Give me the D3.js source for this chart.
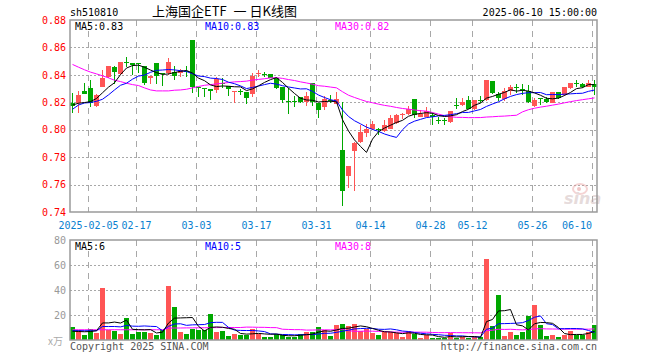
<!DOCTYPE html>
<html><head><meta charset="utf-8">
<script src="https://cdn.jsdelivr.net/npm/d3@7"></script>
<style>body{margin:0;background:#fff} svg{display:block}</style>
</head><body>
<svg id="c" width="660" height="360"></svg>
<script>
const dates = [
"2025-01-23","2025-01-24","2025-01-27",
"2025-02-05","2025-02-06","2025-02-07","2025-02-10","2025-02-11","2025-02-12","2025-02-13","2025-02-14",
"2025-02-17","2025-02-18","2025-02-19","2025-02-20","2025-02-21","2025-02-24","2025-02-25","2025-02-26","2025-02-27","2025-02-28",
"2025-03-03","2025-03-04","2025-03-05","2025-03-06","2025-03-07","2025-03-10","2025-03-11","2025-03-12","2025-03-13","2025-03-14",
"2025-03-17","2025-03-18","2025-03-19","2025-03-20","2025-03-21","2025-03-24","2025-03-25","2025-03-26","2025-03-27","2025-03-28","2025-03-31",
"2025-04-01","2025-04-02","2025-04-03","2025-04-07","2025-04-08","2025-04-09","2025-04-10","2025-04-11",
"2025-04-14","2025-04-15","2025-04-16","2025-04-17","2025-04-18","2025-04-21","2025-04-22","2025-04-23","2025-04-24","2025-04-25",
"2025-04-28","2025-04-29","2025-04-30",
"2025-05-06","2025-05-07","2025-05-08","2025-05-09","2025-05-12","2025-05-13","2025-05-14","2025-05-15","2025-05-16",
"2025-05-19","2025-05-20","2025-05-21","2025-05-22","2025-05-23","2025-05-26","2025-05-27","2025-05-28","2025-05-29","2025-05-30",
"2025-06-03","2025-06-04","2025-06-05","2025-06-06","2025-06-09","2025-06-10"];

const open = [.8193,.8193,.8283,.8305,.8173,.8315,.8386,.8456,.8407,.8493,
.8488,.8488,.8466,.8380,.8488,.8417,.8417,.8422,.8417,.8430,
.8656,.8312,.8303,.8298,.8290,.8339,.8320,.8278,.8283,.8278,
.8259,.8410,.8408,.8407,.8376,.8310,.8206,.8213,.8241,.8205,
.8339,.8198,.8168,.8218,.8188,.7851,.7663,.7846,.7912,.7978,
.8005,.8003,.7993,.8005,.8046,.8105,.8115,.8222,.8095,.8095,
.8107,.8072,.8072,.8059,.8179,.8180,.8217,.8149,.8218,.8217,
.8356,.8259,.8222,.8283,.8311,.8296,.8283,.8173,.8230,.8222,
.8198,.8276,.8254,.8302,.8340,.8334,.8315,.8334];
const high = [.8266,.8283,.8344,.8359,.8261,.8437,.8466,.8466,.8495,.8529,
.8488,.8490,.8466,.8395,.8488,.8417,.8522,.8466,.8444,.8466,
.8656,.8312,.8303,.8298,.8383,.8376,.8320,.8283,.8295,.8278,
.8412,.8437,.8422,.8407,.8376,.8310,.8302,.8246,.8241,.8278,
.8339,.8198,.8246,.8251,.8278,.8205,.7734,.7912,.8034,.8039,
.8066,.8015,.8071,.8107,.8115,.8124,.8176,.8222,.8144,.8163,
.8124,.8090,.8083,.8137,.8229,.8229,.8246,.8217,.8246,.8363,
.8356,.8278,.8307,.8327,.8332,.8334,.8327,.8229,.8230,.8241,
.8276,.8276,.8315,.8339,.8359,.8339,.8359,.8359];
const low = [.8120,.8120,.8259,.8163,.8163,.8310,.8376,.8332,.8398,.8456,
.8400,.8410,.8329,.8332,.8334,.8322,.8400,.8359,.8388,.8388,
.8271,.8241,.8241,.8217,.8271,.8302,.8249,.8198,.8254,.8188,
.8241,.8383,.8388,.8380,.8300,.8198,.8115,.8168,.8198,.8173,
.8173,.8083,.8144,.8193,.8188,.7444,.7578,.7554,.7905,.7949,
.8000,.7961,.7985,.8005,.8039,.8076,.8107,.8083,.8090,.8090,
.8034,.8041,.8034,.8051,.8149,.8173,.8149,.8144,.8198,.8212,
.8259,.8210,.8212,.8254,.8271,.8254,.8198,.8168,.8180,.8193,
.8193,.8222,.8246,.8295,.8315,.8307,.8310,.8254];
const close = [.8173,.8254,.8263,.8198,.8251,.8380,.8461,.8422,.8495,.8490,
.8471,.8476,.8344,.8395,.8395,.8405,.8495,.8395,.8437,.8429,
.8310,.8310,.8302,.8283,.8368,.8332,.8300,.8283,.8278,.8234,
.8393,.8412,.8407,.8380,.8307,.8217,.8205,.8212,.8205,.8246,
.8205,.8144,.8227,.8217,.8222,.7554,.7734,.7900,.7980,.8005,
.8039,.8002,.8034,.8083,.8107,.8115,.8151,.8107,.8112,.8137,
.8090,.8071,.8071,.8137,.8178,.8205,.8154,.8217,.8217,.8359,
.8266,.8234,.8283,.8315,.8310,.8295,.8205,.8217,.8229,.8200,
.8276,.8229,.8315,.8339,.8339,.8310,.8344,.8310];
// volume, 万手
const volume = [10.4,8,4,8.8,5.9,41.6,8,7.5,4.8,17.6,
4.8,6.7,6.7,5.9,4,8,43.2,26.4,6.7,4.8,
8.8,8,8,20.8,6.7,7.5,3.2,4.8,4,4,
8.8,4.8,2.7,2.7,4.8,4,2.7,2.7,4.8,6.7,
6.7,10.4,8,3.2,12,12.8,11.2,12.8,7.5,8.8,
5.9,4,6.7,6.7,5.3,2.7,7.5,4.8,1.9,3.7,
1.9,1.3,1.9,5.3,1.9,2.7,1.9,2.1,2.1,64.8,
11.2,36,3.2,6.7,4,6.7,19.5,28,12,3.2,
4,2.7,4,7.5,4,4,6.7,12];

// moving averages at the first days (their windows start before the chart)
const ma5Head = [.8180,.8193,.8198,.8205];
const ma10Head = [.8149,.8180,.8195,.8198,.8207,.8222,.8254,.8290,.8324];
const ma30Head = [.8476,.8456,.8437,.8420,.8407,.8393,.8378,.8361,.8351,.8339,
.8329,.8322,.8305,.8290,.8283,.8283,.8283,.8288,.8290,.8295,
.8305,.8315,.8324,.8329,.8334,.8339,.8344,.8349,.8351];
const volMa5Head = [7.0,6.8,6.6,6.8];
const volMa10Head = [7.5,7.5,7.4,7.4,7.4,10.8,10.8,10.8,10.5];
const volMa30Head = [8.2,8.2,8.2,8.2,8.2,8.2,8.2,8.2,8.2,8.2,8.2,8.2,8.2,8.2,8.2,8.2,
9.5,9.6,9.6,9.7,9.7,9.8,9.8,9.9,9.9,10,10,10,10];

const priceTicks = [0.88,0.86,0.84,0.82,0.80,0.78,0.76,0.74];
const volTicks = [80,60,40,20];
const tickDates = ["2025-02-05","2025-02-17","2025-03-03","2025-03-17","2025-03-31","2025-04-14","2025-04-28","2025-05-12","2025-05-26","2025-06-10"];
const tickLabels = ["2025-02-05","02-17","03-03","03-17","03-31","04-14","04-28","05-12","05-26","06-10"];

const mono = "'DejaVu Sans Mono', 'Liberation Mono', monospace";
const cjk = "'Noto Sans CJK SC', sans-serif";
const RED = "#ff5555", GREEN = "#00a800", GRID = "#a8a8a8", FRAME = "#9a9a9a";

function movingAvg(arr, n, head) {
  return arr.map((v, i) => {
    if (i < head.length) return head[i];
    return d3.mean(arr.slice(i - n + 1, i + 1));
  });
}

const svg = d3.select("#c");
const L = 70, R = 597, T = 20, B = 212, VT = 240, VB = 340;
const x = d3.scaleBand().domain(dates).range([70, 598]).padding(0);
const y = d3.scaleLinear().domain([0.74, 0.88]).range([212, 20]);
const yv = d3.scaleLinear().domain([0, 80]).range([340, 240]);

svg.append("rect").attr("width", 660).attr("height", 360).attr("fill", "#fff");

// grid
const g = svg.append("g");
g.selectAll(".hg").data(priceTicks.slice(1, -1)).join("line")
  .attr("x1", L).attr("x2", R).attr("y1", d => Math.round(y(d)) + 0.5).attr("y2", d => Math.round(y(d)) + 0.5)
  .attr("stroke", GRID).attr("stroke-dasharray", "2,2");
g.selectAll(".hv").data(volTicks.slice(1)).join("line")
  .attr("x1", L).attr("x2", R).attr("y1", d => Math.round(yv(d)) + 0.5).attr("y2", d => Math.round(yv(d)) + 0.5)
  .attr("stroke", GRID).attr("stroke-dasharray", "2,2");
tickDates.forEach(d => {
  const xx = Math.round(x(d)) + 0.5;
  g.append("line").attr("x1", xx).attr("x2", xx).attr("y1", T).attr("y2", B)
    .attr("stroke", GRID).attr("stroke-dasharray", "6,5");
  g.append("line").attr("x1", xx).attr("x2", xx).attr("y1", VT).attr("y2", VB)
    .attr("stroke", GRID).attr("stroke-dasharray", "6,5");
});

// candles
const idx = d3.range(dates.length);
const col = i => close[i] > open[i] ? RED : GREEN;
const cg = svg.append("g").attr("shape-rendering", "crispEdges");
cg.selectAll(".wick").data(idx).join("rect")
  .attr("x", i => x(dates[i]) + 2).attr("width", 1)
  .attr("y", i => y(high[i])).attr("height", i => Math.max(1, y(low[i]) - y(high[i])))
  .attr("fill", col);
cg.selectAll(".body").data(idx).join("rect")
  .attr("x", i => x(dates[i])).attr("width", 5)
  .attr("y", i => y(Math.max(open[i], close[i])))
  .attr("height", i => Math.max(1, Math.abs(y(open[i]) - y(close[i]))))
  .attr("fill", col);

// volume bars
cg.selectAll(".vol").data(idx).join("rect")
  .attr("x", i => x(dates[i])).attr("width", 5)
  .attr("y", i => yv(volume[i])).attr("height", i => yv(0) - yv(volume[i]))
  .attr("fill", col);

// MA lines
const ma5 = movingAvg(close, 5, ma5Head);
const ma10 = movingAvg(close, 10, ma10Head);
const ma30 = movingAvg(close, 30, ma30Head);
const vma5 = movingAvg(volume, 5, volMa5Head);
const vma10 = movingAvg(volume, 10, volMa10Head);
const vma30 = movingAvg(volume, 30, volMa30Head);
const lineP = d3.line().x((d, i) => x(dates[i]) + 2.5).y(d => y(d));
const lineV = d3.line().x((d, i) => x(dates[i]) + 2.5).y(d => yv(d));
[[ma30, "#ff00ff"], [ma10, "#0000ff"], [ma5, "#000000"]].forEach(([s, c]) =>
  svg.append("path").attr("d", lineP(s)).attr("fill", "none").attr("stroke", c).attr("stroke-width", 1));
[[vma30, "#ff00ff"], [vma10, "#0000ff"], [vma5, "#000000"]].forEach(([s, c]) =>
  svg.append("path").attr("d", lineV(s)).attr("fill", "none").attr("stroke", c).attr("stroke-width", 1));

// sina watermark
const wm = svg.append("g").attr("opacity", 0.45);
wm.append("ellipse").attr("cx", 580).attr("cy", 189).attr("rx", 7).attr("ry", 5)
  .attr("fill", "none").attr("stroke", "#e9a0a0").attr("stroke-width", 2);
wm.append("circle").attr("cx", 579).attr("cy", 189).attr("r", 2).attr("fill", "#e08080");
wm.append("text").attr("x", 564).attr("y", 204).text("sina")
  .attr("font-family", "'DejaVu Sans', sans-serif").attr("font-size", 16).attr("font-weight", "bold")
  .attr("font-style", "italic").attr("fill", "#c8b0b0");

// frames
svg.append("rect").attr("x", L).attr("y", T).attr("width", R - L).attr("height", B - T)
  .attr("fill", "none").attr("stroke", FRAME).attr("stroke-width", 1.5);
svg.append("rect").attr("x", L).attr("y", VT).attr("width", R - L).attr("height", VB - VT)
  .attr("fill", "none").attr("stroke", FRAME).attr("stroke-width", 1.5);

// axes
const ay = svg.append("g").attr("transform", `translate(${L},0)`)
  .call(d3.axisLeft(y).tickValues(priceTicks).tickFormat(d3.format(".2f")).tickSize(0).tickPadding(4));
ay.select(".domain").remove();
ay.selectAll("text").attr("fill", "#ff0000").attr("font-family", mono).attr("font-size", 10);

const av = svg.append("g").attr("transform", `translate(${L},0)`)
  .call(d3.axisLeft(yv).tickValues(volTicks).tickSize(0).tickPadding(4));
av.select(".domain").remove();
av.selectAll("text").attr("fill", "#999").attr("font-family", mono).attr("font-size", 10);
svg.append("text").attr("x", 63).attr("y", 345).attr("text-anchor", "end").text("x万")
  .attr("fill", "#aaa").attr("font-family", cjk).attr("font-size", 10);

tickDates.forEach((d, k) => {
  const last = k === tickDates.length - 1;
  svg.append("text").attr("x", Math.round(x(d)) + (last ? 0 : 0.5)).attr("y", 229)
    .attr("text-anchor", last ? "end" : "middle").text(tickLabels[k])
    .attr("fill", "#0a7fd0").attr("font-family", mono).attr("font-size", 10);
});

// header texts
const txt = (s, xx, yy, c, anchor, fam, size) => svg.append("text").attr("x", xx).attr("y", yy).text(s)
  .attr("fill", c).attr("text-anchor", anchor || "start").attr("font-family", fam || mono).attr("font-size", size || 10);
txt("sh510810", 70, 16, "#000");
txt("上海国企ETF", 152, 16, "#000", "start", cjk, 13);
txt("一", 240, 16, "#000", "middle", cjk, 13);
txt("日K线图", 297, 16, "#000", "end", cjk, 13);
txt("2025-06-10 15:00:00", 597, 16, "#000", "end");
txt("MA5:0.83", 75, 30, "#000");
txt("MA10:0.83", 205, 30, "#0000ff");
txt("MA30:0.82", 335, 30, "#ff00ff");
txt("MA5:6", 75, 250, "#000");
txt("MA10:5", 205, 250, "#0000ff");
txt("MA30:8", 335, 250, "#ff00ff");
txt("Copyright 2025 SINA.COM", 70, 350, "#555");
txt("http://finance.sina.com.cn", 597, 350, "#555", "end");
</script>
</body></html>
